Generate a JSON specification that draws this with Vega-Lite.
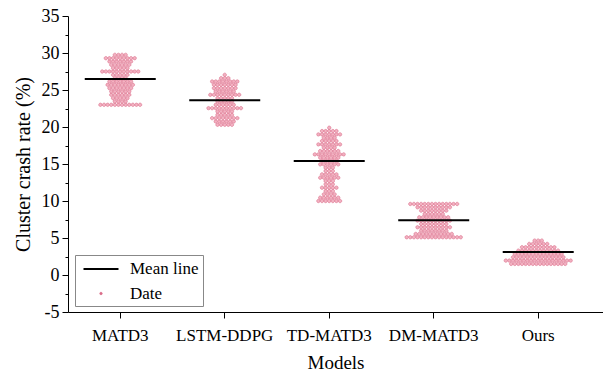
{
  "$schema": "https://vega.github.io/schema/vega-lite/v6.json",
  "width": 535,
  "height": 296,
  "autosize": {"type": "none"},
  "padding": {"left": 68, "top": 16, "right": 0, "bottom": 65},
  "config": {"font": "Liberation Serif", "view": {"stroke": null}},
  "datasets": {
    "means": [
      {"m": "MATD3", "mean": 26.5},
      {"m": "LSTM-DDPG", "mean": 23.6},
      {"m": "TD-MATD3", "mean": 15.4},
      {"m": "DM-MATD3", "mean": 7.4},
      {"m": "Ours", "mean": 3.1}
    ],
    "pts": [
      {"m":"MATD3","v":23},{"m":"MATD3","v":23},{"m":"MATD3","v":23},{"m":"MATD3","v":23},{"m":"MATD3","v":23},{"m":"MATD3","v":23},{"m":"MATD3","v":23},{"m":"MATD3","v":23},{"m":"MATD3","v":23},{"m":"MATD3","v":23},{"m":"MATD3","v":23},{"m":"MATD3","v":23},
      {"m":"MATD3","v":23.45},{"m":"MATD3","v":23.45},{"m":"MATD3","v":23.45},{"m":"MATD3","v":23.45},
      {"m":"MATD3","v":23.9},{"m":"MATD3","v":23.9},{"m":"MATD3","v":23.9},{"m":"MATD3","v":23.9},{"m":"MATD3","v":23.9},
      {"m":"MATD3","v":24.35},{"m":"MATD3","v":24.35},{"m":"MATD3","v":24.35},{"m":"MATD3","v":24.35},{"m":"MATD3","v":24.35},{"m":"MATD3","v":24.35},
      {"m":"MATD3","v":24.8},{"m":"MATD3","v":24.8},{"m":"MATD3","v":24.8},{"m":"MATD3","v":24.8},{"m":"MATD3","v":24.8},{"m":"MATD3","v":24.8},
      {"m":"MATD3","v":25.25},{"m":"MATD3","v":25.25},{"m":"MATD3","v":25.25},{"m":"MATD3","v":25.25},{"m":"MATD3","v":25.25},{"m":"MATD3","v":25.25},{"m":"MATD3","v":25.25},
      {"m":"MATD3","v":25.7},{"m":"MATD3","v":25.7},{"m":"MATD3","v":25.7},{"m":"MATD3","v":25.7},{"m":"MATD3","v":25.7},{"m":"MATD3","v":25.7},{"m":"MATD3","v":25.7},{"m":"MATD3","v":25.7},
      {"m":"MATD3","v":26.15},{"m":"MATD3","v":26.15},{"m":"MATD3","v":26.15},{"m":"MATD3","v":26.15},{"m":"MATD3","v":26.15},{"m":"MATD3","v":26.15},{"m":"MATD3","v":26.15},
      {"m":"MATD3","v":26.6},{"m":"MATD3","v":26.6},{"m":"MATD3","v":26.6},{"m":"MATD3","v":26.6},
      {"m":"MATD3","v":27.05},{"m":"MATD3","v":27.05},{"m":"MATD3","v":27.05},{"m":"MATD3","v":27.05},{"m":"MATD3","v":27.05},
      {"m":"MATD3","v":27.5},{"m":"MATD3","v":27.5},{"m":"MATD3","v":27.5},{"m":"MATD3","v":27.5},{"m":"MATD3","v":27.5},{"m":"MATD3","v":27.5},{"m":"MATD3","v":27.5},{"m":"MATD3","v":27.5},{"m":"MATD3","v":27.5},{"m":"MATD3","v":27.5},{"m":"MATD3","v":27.5},
      {"m":"MATD3","v":27.95},{"m":"MATD3","v":27.95},{"m":"MATD3","v":27.95},{"m":"MATD3","v":27.95},{"m":"MATD3","v":27.95},
      {"m":"MATD3","v":28.4},{"m":"MATD3","v":28.4},{"m":"MATD3","v":28.4},{"m":"MATD3","v":28.4},{"m":"MATD3","v":28.4},{"m":"MATD3","v":28.4},
      {"m":"MATD3","v":28.85},{"m":"MATD3","v":28.85},{"m":"MATD3","v":28.85},{"m":"MATD3","v":28.85},{"m":"MATD3","v":28.85},{"m":"MATD3","v":28.85},{"m":"MATD3","v":28.85},
      {"m":"MATD3","v":29.3},{"m":"MATD3","v":29.3},{"m":"MATD3","v":29.3},{"m":"MATD3","v":29.3},{"m":"MATD3","v":29.3},{"m":"MATD3","v":29.3},{"m":"MATD3","v":29.3},{"m":"MATD3","v":29.3},{"m":"MATD3","v":29.3},
      {"m":"MATD3","v":29.75},{"m":"MATD3","v":29.75},{"m":"MATD3","v":29.75},{"m":"MATD3","v":29.75},

      {"m":"LSTM-DDPG","v":20.3},{"m":"LSTM-DDPG","v":20.3},{"m":"LSTM-DDPG","v":20.3},{"m":"LSTM-DDPG","v":20.3},{"m":"LSTM-DDPG","v":20.3},
      {"m":"LSTM-DDPG","v":20.75},{"m":"LSTM-DDPG","v":20.75},{"m":"LSTM-DDPG","v":20.75},{"m":"LSTM-DDPG","v":20.75},{"m":"LSTM-DDPG","v":20.75},{"m":"LSTM-DDPG","v":20.75},
      {"m":"LSTM-DDPG","v":21.2},{"m":"LSTM-DDPG","v":21.2},{"m":"LSTM-DDPG","v":21.2},{"m":"LSTM-DDPG","v":21.2},{"m":"LSTM-DDPG","v":21.2},{"m":"LSTM-DDPG","v":21.2},{"m":"LSTM-DDPG","v":21.2},{"m":"LSTM-DDPG","v":21.2},
      {"m":"LSTM-DDPG","v":21.65},{"m":"LSTM-DDPG","v":21.65},{"m":"LSTM-DDPG","v":21.65},{"m":"LSTM-DDPG","v":21.65},{"m":"LSTM-DDPG","v":21.65},
      {"m":"LSTM-DDPG","v":22.1},{"m":"LSTM-DDPG","v":22.1},{"m":"LSTM-DDPG","v":22.1},{"m":"LSTM-DDPG","v":22.1},{"m":"LSTM-DDPG","v":22.1},
      {"m":"LSTM-DDPG","v":22.55},{"m":"LSTM-DDPG","v":22.55},{"m":"LSTM-DDPG","v":22.55},{"m":"LSTM-DDPG","v":22.55},{"m":"LSTM-DDPG","v":22.55},{"m":"LSTM-DDPG","v":22.55},{"m":"LSTM-DDPG","v":22.55},{"m":"LSTM-DDPG","v":22.55},{"m":"LSTM-DDPG","v":22.55},{"m":"LSTM-DDPG","v":22.55},
      {"m":"LSTM-DDPG","v":23},{"m":"LSTM-DDPG","v":23},{"m":"LSTM-DDPG","v":23},{"m":"LSTM-DDPG","v":23},{"m":"LSTM-DDPG","v":23},{"m":"LSTM-DDPG","v":23},
      {"m":"LSTM-DDPG","v":23.45},{"m":"LSTM-DDPG","v":23.45},{"m":"LSTM-DDPG","v":23.45},{"m":"LSTM-DDPG","v":23.45},{"m":"LSTM-DDPG","v":23.45},
      {"m":"LSTM-DDPG","v":23.9},{"m":"LSTM-DDPG","v":23.9},{"m":"LSTM-DDPG","v":23.9},{"m":"LSTM-DDPG","v":23.9},{"m":"LSTM-DDPG","v":23.9},
      {"m":"LSTM-DDPG","v":24.35},{"m":"LSTM-DDPG","v":24.35},{"m":"LSTM-DDPG","v":24.35},{"m":"LSTM-DDPG","v":24.35},{"m":"LSTM-DDPG","v":24.35},{"m":"LSTM-DDPG","v":24.35},{"m":"LSTM-DDPG","v":24.35},{"m":"LSTM-DDPG","v":24.35},{"m":"LSTM-DDPG","v":24.35},
      {"m":"LSTM-DDPG","v":24.8},{"m":"LSTM-DDPG","v":24.8},{"m":"LSTM-DDPG","v":24.8},{"m":"LSTM-DDPG","v":24.8},{"m":"LSTM-DDPG","v":24.8},{"m":"LSTM-DDPG","v":24.8},
      {"m":"LSTM-DDPG","v":25.25},{"m":"LSTM-DDPG","v":25.25},{"m":"LSTM-DDPG","v":25.25},{"m":"LSTM-DDPG","v":25.25},{"m":"LSTM-DDPG","v":25.25},{"m":"LSTM-DDPG","v":25.25},{"m":"LSTM-DDPG","v":25.25},
      {"m":"LSTM-DDPG","v":25.7},{"m":"LSTM-DDPG","v":25.7},{"m":"LSTM-DDPG","v":25.7},{"m":"LSTM-DDPG","v":25.7},{"m":"LSTM-DDPG","v":25.7},{"m":"LSTM-DDPG","v":25.7},{"m":"LSTM-DDPG","v":25.7},
      {"m":"LSTM-DDPG","v":26.15},{"m":"LSTM-DDPG","v":26.15},{"m":"LSTM-DDPG","v":26.15},{"m":"LSTM-DDPG","v":26.15},{"m":"LSTM-DDPG","v":26.15},{"m":"LSTM-DDPG","v":26.15},{"m":"LSTM-DDPG","v":26.15},{"m":"LSTM-DDPG","v":26.15},
      {"m":"LSTM-DDPG","v":26.6},{"m":"LSTM-DDPG","v":26.6},{"m":"LSTM-DDPG","v":26.6},
      {"m":"LSTM-DDPG","v":27.05},

      {"m":"TD-MATD3","v":10},{"m":"TD-MATD3","v":10},{"m":"TD-MATD3","v":10},{"m":"TD-MATD3","v":10},{"m":"TD-MATD3","v":10},{"m":"TD-MATD3","v":10},{"m":"TD-MATD3","v":10},
      {"m":"TD-MATD3","v":10.45},{"m":"TD-MATD3","v":10.45},{"m":"TD-MATD3","v":10.45},{"m":"TD-MATD3","v":10.45},{"m":"TD-MATD3","v":10.45},{"m":"TD-MATD3","v":10.45},
      {"m":"TD-MATD3","v":10.9},{"m":"TD-MATD3","v":10.9},{"m":"TD-MATD3","v":10.9},{"m":"TD-MATD3","v":10.9},
      {"m":"TD-MATD3","v":11.35},{"m":"TD-MATD3","v":11.35},{"m":"TD-MATD3","v":11.35},
      {"m":"TD-MATD3","v":11.8},{"m":"TD-MATD3","v":11.8},{"m":"TD-MATD3","v":11.8},{"m":"TD-MATD3","v":11.8},{"m":"TD-MATD3","v":11.8},
      {"m":"TD-MATD3","v":12.25},{"m":"TD-MATD3","v":12.25},{"m":"TD-MATD3","v":12.25},
      {"m":"TD-MATD3","v":12.7},{"m":"TD-MATD3","v":12.7},{"m":"TD-MATD3","v":12.7},
      {"m":"TD-MATD3","v":13.15},{"m":"TD-MATD3","v":13.15},{"m":"TD-MATD3","v":13.15},{"m":"TD-MATD3","v":13.15},{"m":"TD-MATD3","v":13.15},{"m":"TD-MATD3","v":13.15},
      {"m":"TD-MATD3","v":13.6},{"m":"TD-MATD3","v":13.6},{"m":"TD-MATD3","v":13.6},{"m":"TD-MATD3","v":13.6},{"m":"TD-MATD3","v":13.6},
      {"m":"TD-MATD3","v":14.05},{"m":"TD-MATD3","v":14.05},{"m":"TD-MATD3","v":14.05},
      {"m":"TD-MATD3","v":14.5},{"m":"TD-MATD3","v":14.5},{"m":"TD-MATD3","v":14.5},
      {"m":"TD-MATD3","v":14.95},{"m":"TD-MATD3","v":14.95},{"m":"TD-MATD3","v":14.95},{"m":"TD-MATD3","v":14.95},{"m":"TD-MATD3","v":14.95},{"m":"TD-MATD3","v":14.95},
      {"m":"TD-MATD3","v":15.4},{"m":"TD-MATD3","v":15.4},{"m":"TD-MATD3","v":15.4},{"m":"TD-MATD3","v":15.4},{"m":"TD-MATD3","v":15.4},
      {"m":"TD-MATD3","v":15.85},{"m":"TD-MATD3","v":15.85},{"m":"TD-MATD3","v":15.85},{"m":"TD-MATD3","v":15.85},{"m":"TD-MATD3","v":15.85},{"m":"TD-MATD3","v":15.85},
      {"m":"TD-MATD3","v":16.3},{"m":"TD-MATD3","v":16.3},{"m":"TD-MATD3","v":16.3},{"m":"TD-MATD3","v":16.3},{"m":"TD-MATD3","v":16.3},{"m":"TD-MATD3","v":16.3},{"m":"TD-MATD3","v":16.3},{"m":"TD-MATD3","v":16.3},{"m":"TD-MATD3","v":16.3},
      {"m":"TD-MATD3","v":16.75},{"m":"TD-MATD3","v":16.75},{"m":"TD-MATD3","v":16.75},{"m":"TD-MATD3","v":16.75},{"m":"TD-MATD3","v":16.75},{"m":"TD-MATD3","v":16.75},
      {"m":"TD-MATD3","v":17.2},{"m":"TD-MATD3","v":17.2},{"m":"TD-MATD3","v":17.2},{"m":"TD-MATD3","v":17.2},
      {"m":"TD-MATD3","v":17.65},{"m":"TD-MATD3","v":17.65},{"m":"TD-MATD3","v":17.65},{"m":"TD-MATD3","v":17.65},{"m":"TD-MATD3","v":17.65},{"m":"TD-MATD3","v":17.65},{"m":"TD-MATD3","v":17.65},
      {"m":"TD-MATD3","v":18.1},{"m":"TD-MATD3","v":18.1},{"m":"TD-MATD3","v":18.1},{"m":"TD-MATD3","v":18.1},{"m":"TD-MATD3","v":18.1},
      {"m":"TD-MATD3","v":18.55},{"m":"TD-MATD3","v":18.55},{"m":"TD-MATD3","v":18.55},{"m":"TD-MATD3","v":18.55},
      {"m":"TD-MATD3","v":19},{"m":"TD-MATD3","v":19},{"m":"TD-MATD3","v":19},{"m":"TD-MATD3","v":19},{"m":"TD-MATD3","v":19},{"m":"TD-MATD3","v":19},{"m":"TD-MATD3","v":19},
      {"m":"TD-MATD3","v":19.45},{"m":"TD-MATD3","v":19.45},{"m":"TD-MATD3","v":19.45},{"m":"TD-MATD3","v":19.45},{"m":"TD-MATD3","v":19.45},
      {"m":"TD-MATD3","v":19.9},

      {"m":"DM-MATD3","v":5.1},{"m":"DM-MATD3","v":5.1},{"m":"DM-MATD3","v":5.1},{"m":"DM-MATD3","v":5.1},{"m":"DM-MATD3","v":5.1},{"m":"DM-MATD3","v":5.1},{"m":"DM-MATD3","v":5.1},{"m":"DM-MATD3","v":5.1},{"m":"DM-MATD3","v":5.1},{"m":"DM-MATD3","v":5.1},{"m":"DM-MATD3","v":5.1},{"m":"DM-MATD3","v":5.1},{"m":"DM-MATD3","v":5.1},{"m":"DM-MATD3","v":5.1},{"m":"DM-MATD3","v":5.1},{"m":"DM-MATD3","v":5.1},
      {"m":"DM-MATD3","v":5.55},{"m":"DM-MATD3","v":5.55},{"m":"DM-MATD3","v":5.55},{"m":"DM-MATD3","v":5.55},{"m":"DM-MATD3","v":5.55},{"m":"DM-MATD3","v":5.55},{"m":"DM-MATD3","v":5.55},{"m":"DM-MATD3","v":5.55},{"m":"DM-MATD3","v":5.55},{"m":"DM-MATD3","v":5.55},{"m":"DM-MATD3","v":5.55},
      {"m":"DM-MATD3","v":6},{"m":"DM-MATD3","v":6},{"m":"DM-MATD3","v":6},{"m":"DM-MATD3","v":6},{"m":"DM-MATD3","v":6},{"m":"DM-MATD3","v":6},{"m":"DM-MATD3","v":6},{"m":"DM-MATD3","v":6},
      {"m":"DM-MATD3","v":6.45},{"m":"DM-MATD3","v":6.45},{"m":"DM-MATD3","v":6.45},{"m":"DM-MATD3","v":6.45},{"m":"DM-MATD3","v":6.45},{"m":"DM-MATD3","v":6.45},{"m":"DM-MATD3","v":6.45},{"m":"DM-MATD3","v":6.45},{"m":"DM-MATD3","v":6.45},{"m":"DM-MATD3","v":6.45},
      {"m":"DM-MATD3","v":6.9},{"m":"DM-MATD3","v":6.9},{"m":"DM-MATD3","v":6.9},{"m":"DM-MATD3","v":6.9},{"m":"DM-MATD3","v":6.9},{"m":"DM-MATD3","v":6.9},{"m":"DM-MATD3","v":6.9},{"m":"DM-MATD3","v":6.9},
      {"m":"DM-MATD3","v":7.35},{"m":"DM-MATD3","v":7.35},{"m":"DM-MATD3","v":7.35},{"m":"DM-MATD3","v":7.35},{"m":"DM-MATD3","v":7.35},{"m":"DM-MATD3","v":7.35},{"m":"DM-MATD3","v":7.35},{"m":"DM-MATD3","v":7.35},{"m":"DM-MATD3","v":7.35},{"m":"DM-MATD3","v":7.35},
      {"m":"DM-MATD3","v":7.8},{"m":"DM-MATD3","v":7.8},{"m":"DM-MATD3","v":7.8},{"m":"DM-MATD3","v":7.8},{"m":"DM-MATD3","v":7.8},{"m":"DM-MATD3","v":7.8},{"m":"DM-MATD3","v":7.8},{"m":"DM-MATD3","v":7.8},{"m":"DM-MATD3","v":7.8},
      {"m":"DM-MATD3","v":8.25},{"m":"DM-MATD3","v":8.25},{"m":"DM-MATD3","v":8.25},{"m":"DM-MATD3","v":8.25},{"m":"DM-MATD3","v":8.25},{"m":"DM-MATD3","v":8.25},
      {"m":"DM-MATD3","v":8.7},{"m":"DM-MATD3","v":8.7},{"m":"DM-MATD3","v":8.7},{"m":"DM-MATD3","v":8.7},{"m":"DM-MATD3","v":8.7},{"m":"DM-MATD3","v":8.7},{"m":"DM-MATD3","v":8.7},{"m":"DM-MATD3","v":8.7},
      {"m":"DM-MATD3","v":9.15},{"m":"DM-MATD3","v":9.15},{"m":"DM-MATD3","v":9.15},{"m":"DM-MATD3","v":9.15},{"m":"DM-MATD3","v":9.15},{"m":"DM-MATD3","v":9.15},{"m":"DM-MATD3","v":9.15},{"m":"DM-MATD3","v":9.15},{"m":"DM-MATD3","v":9.15},{"m":"DM-MATD3","v":9.15},
      {"m":"DM-MATD3","v":9.6},{"m":"DM-MATD3","v":9.6},{"m":"DM-MATD3","v":9.6},{"m":"DM-MATD3","v":9.6},{"m":"DM-MATD3","v":9.6},{"m":"DM-MATD3","v":9.6},{"m":"DM-MATD3","v":9.6},{"m":"DM-MATD3","v":9.6},{"m":"DM-MATD3","v":9.6},{"m":"DM-MATD3","v":9.6},{"m":"DM-MATD3","v":9.6},{"m":"DM-MATD3","v":9.6},{"m":"DM-MATD3","v":9.6},{"m":"DM-MATD3","v":9.6},

      {"m":"Ours","v":1.5},{"m":"Ours","v":1.5},{"m":"Ours","v":1.5},{"m":"Ours","v":1.5},{"m":"Ours","v":1.5},{"m":"Ours","v":1.5},{"m":"Ours","v":1.5},{"m":"Ours","v":1.5},{"m":"Ours","v":1.5},{"m":"Ours","v":1.5},{"m":"Ours","v":1.5},{"m":"Ours","v":1.5},{"m":"Ours","v":1.5},{"m":"Ours","v":1.5},{"m":"Ours","v":1.5},{"m":"Ours","v":1.5},
      {"m":"Ours","v":1.95},{"m":"Ours","v":1.95},{"m":"Ours","v":1.95},{"m":"Ours","v":1.95},{"m":"Ours","v":1.95},{"m":"Ours","v":1.95},{"m":"Ours","v":1.95},{"m":"Ours","v":1.95},{"m":"Ours","v":1.95},{"m":"Ours","v":1.95},{"m":"Ours","v":1.95},{"m":"Ours","v":1.95},{"m":"Ours","v":1.95},{"m":"Ours","v":1.95},{"m":"Ours","v":1.95},{"m":"Ours","v":1.95},{"m":"Ours","v":1.95},{"m":"Ours","v":1.95},{"m":"Ours","v":1.95},
      {"m":"Ours","v":2.4},{"m":"Ours","v":2.4},{"m":"Ours","v":2.4},{"m":"Ours","v":2.4},{"m":"Ours","v":2.4},{"m":"Ours","v":2.4},{"m":"Ours","v":2.4},{"m":"Ours","v":2.4},{"m":"Ours","v":2.4},{"m":"Ours","v":2.4},{"m":"Ours","v":2.4},{"m":"Ours","v":2.4},{"m":"Ours","v":2.4},{"m":"Ours","v":2.4},{"m":"Ours","v":2.4},
      {"m":"Ours","v":2.85},{"m":"Ours","v":2.85},{"m":"Ours","v":2.85},{"m":"Ours","v":2.85},{"m":"Ours","v":2.85},{"m":"Ours","v":2.85},{"m":"Ours","v":2.85},{"m":"Ours","v":2.85},{"m":"Ours","v":2.85},{"m":"Ours","v":2.85},{"m":"Ours","v":2.85},{"m":"Ours","v":2.85},{"m":"Ours","v":2.85},{"m":"Ours","v":2.85},
      {"m":"Ours","v":3.3},{"m":"Ours","v":3.3},{"m":"Ours","v":3.3},{"m":"Ours","v":3.3},{"m":"Ours","v":3.3},{"m":"Ours","v":3.3},{"m":"Ours","v":3.3},{"m":"Ours","v":3.3},{"m":"Ours","v":3.3},{"m":"Ours","v":3.3},{"m":"Ours","v":3.3},{"m":"Ours","v":3.3},
      {"m":"Ours","v":3.75},{"m":"Ours","v":3.75},{"m":"Ours","v":3.75},{"m":"Ours","v":3.75},{"m":"Ours","v":3.75},{"m":"Ours","v":3.75},{"m":"Ours","v":3.75},{"m":"Ours","v":3.75},{"m":"Ours","v":3.75},{"m":"Ours","v":3.75},
      {"m":"Ours","v":4.2},{"m":"Ours","v":4.2},{"m":"Ours","v":4.2},{"m":"Ours","v":4.2},{"m":"Ours","v":4.2},{"m":"Ours","v":4.2},
      {"m":"Ours","v":4.65},{"m":"Ours","v":4.65},{"m":"Ours","v":4.65}
    ]
  },
  "layer": [
    {
      "data": {"name": "pts"},
      "transform": [
        {"joinaggregate": [{"op": "count", "as": "n"}], "groupby": ["m", "v"]},
        {"window": [{"op": "row_number", "as": "r"}], "groupby": ["m", "v"]},
        {"calculate": "datum.r - 1 - (datum.n - 1) / 2", "as": "off"}
      ],
      "mark": {"type": "point", "filled": false, "fill": "#f2b1c1", "size": 514, "opacity": 1},
      "encoding": {
        "x": {"field": "m", "type": "nominal", "sort": null},
        "xOffset": {"field": "off", "type": "quantitative", "scale": {"domain": [-14.5, 14.5]}},
        "y": {"field": "v", "type": "quantitative"},
        "color": {"datum": "Date"},
        "shape": {"datum": "Date"},
        "strokeWidth": {"datum": "Date"}
      }
    },
    {
      "data": {"name": "means"},
      "mark": {"type": "tick", "size": 71, "thickness": 2, "opacity": 1},
      "encoding": {
        "x": {"field": "m", "type": "nominal", "sort": null},
        "y": {"field": "mean", "type": "quantitative"},
        "color": {"datum": "Mean line"}
      }
    }
  ],
  "resolve": {"scale": {"x": "shared"}},
  "encoding": {
    "x": {
      "field": "m", "type": "nominal", "sort": null,
      "scale": {"type": "band", "domain": ["MATD3", "LSTM-DDPG", "TD-MATD3", "DM-MATD3", "Ours"], "paddingInner": 0, "paddingOuter": 0.06, "align": 0},
      "axis": {"title": "Models", "labelAngle": 0, "grid": false, "domainColor": "black", "tickColor": "black", "tickSize": 6, "labelFontSize": 17, "labelColor": "black", "labelPadding": 9, "titleFontSize": 19, "titleFontWeight": "normal", "titleColor": "black", "titlePadding": 10}
    },
    "y": {
      "type": "quantitative",
      "scale": {"domain": [-5, 35], "nice": false, "zero": false},
      "axis": {
        "title": "Cluster crash rate (%)",
        "values": [-5, -2.5, 0, 2.5, 5, 7.5, 10, 12.5, 15, 17.5, 20, 22.5, 25, 27.5, 30, 32.5, 35],
        "labelExpr": "datum.value % 5 === 0 ? '' + datum.value : ''",
        "tickSize": {"condition": {"test": "datum.value % 5 === 0", "value": 6}, "value": 3},
        "grid": false, "domainColor": "black", "tickColor": "black", "labelFontSize": 18, "labelColor": "black", "labelPadding": 3,
        "titleFontSize": 20, "titleFontWeight": "normal", "titleColor": "black", "titlePadding": 8
      }
    },
    "color": {
      "scale": {"domain": ["Mean line", "Date"], "range": ["black", "#da6d89"]},
      "legend": {
        "title": null, "orient": "none", "legendX": 7, "legendY": 239, "direction": "vertical",
        "strokeColor": "#888888", "fillColor": "white", "padding": 4,
        "labelFont": "Liberation Serif", "labelFontSize": 17, "labelColor": "black",
        "labelExpr": "datum.label + '\u00a0\u00a0\u00a0\u00a0\u00a0\u00a0\u00a0\u00a0\u00a0\u00a0\u00a0\u00a0\u00a0\u00a0\u00a0'",
        "symbolSize": 306, "rowPadding": 7, "labelOffset": 19, "symbolOffset": 12
      }
    },
    "shape": {
      "scale": {"domain": ["Mean line", "Date"], "range": ["M-2,0H2", "M-0.15,0A0.15,0.15 0 1,0 0.15,0A0.15,0.15 0 1,0 -0.15,0Z"]},
      "legend": {
        "title": null, "orient": "none", "legendX": 7, "legendY": 239, "direction": "vertical",
        "strokeColor": "#888888", "fillColor": "white", "padding": 4,
        "labelFont": "Liberation Serif", "labelFontSize": 17, "labelColor": "black",
        "labelExpr": "datum.label + '\u00a0\u00a0\u00a0\u00a0\u00a0\u00a0\u00a0\u00a0\u00a0\u00a0\u00a0\u00a0\u00a0\u00a0\u00a0'",
        "symbolSize": 306, "rowPadding": 7, "labelOffset": 19, "symbolOffset": 12
      }
    },
    "strokeWidth": {
      "scale": {"domain": ["Mean line", "Date"], "range": [2, 0.6]},
      "legend": {
        "title": null, "orient": "none", "legendX": 7, "legendY": 239, "direction": "vertical",
        "strokeColor": "#888888", "fillColor": "white", "padding": 4,
        "labelFont": "Liberation Serif", "labelFontSize": 17, "labelColor": "black",
        "labelExpr": "datum.label + '\u00a0\u00a0\u00a0\u00a0\u00a0\u00a0\u00a0\u00a0\u00a0\u00a0\u00a0\u00a0\u00a0\u00a0\u00a0'",
        "symbolSize": 306, "rowPadding": 7, "labelOffset": 19, "symbolOffset": 12
      }
    }
  }
}
